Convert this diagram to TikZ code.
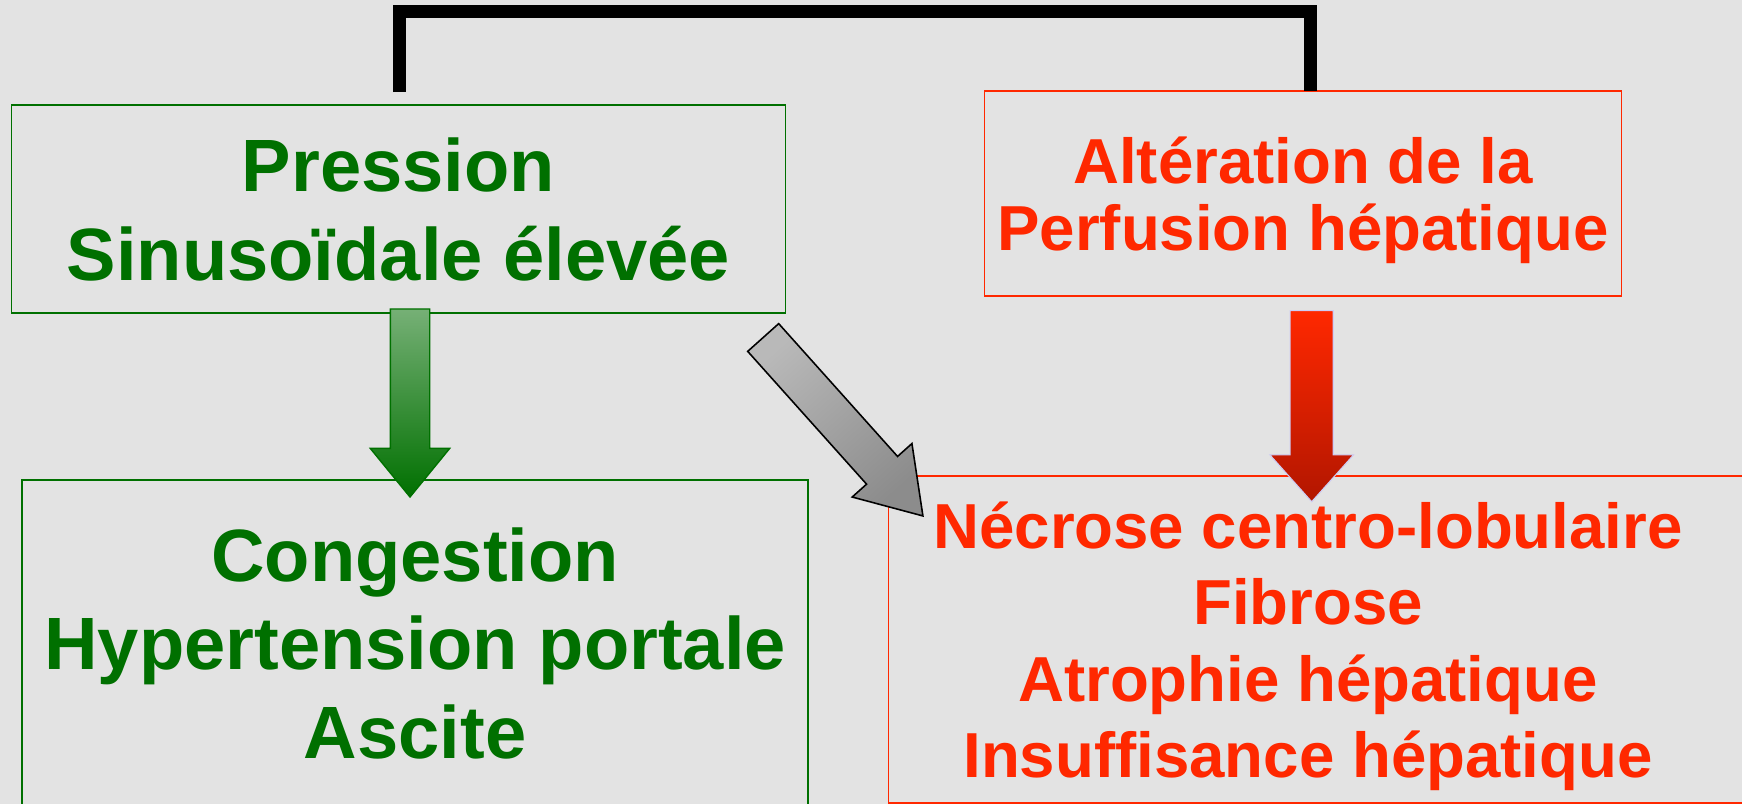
\documentclass[tikz,border=0pt]{standalone}
\usepackage{fontspec}
\setmainfont{Liberation Sans}
\usetikzlibrary{shapes.arrows}

\definecolor{fond}{RGB}{227,227,227}
\definecolor{vert}{RGB}{0,112,0}
\definecolor{vertclair}{RGB}{118,176,118}
\definecolor{rouge}{RGB}{255,40,0}
\definecolor{rougefonce}{RGB}{178,22,0}
\definecolor{lavande}{RGB}{205,205,245}

\newcommand{\pxu}{0.02cm}

\begin{document}
\begin{tikzpicture}[x=0.02cm,y=-0.02cm,
    boite/.style={line width=1.1pt, align=center, inner sep=0pt, outer sep=0pt, text depth=0pt},
    grand/.style={font=\fontsize{42.2}{51}\selectfont\bfseries},
    fleche/.style={single arrow, single arrow head indent=0pt, inner sep=0pt, outer sep=0pt, anchor=tail}
]
    % fond et cadre
    \fill[fond] (0,0) rectangle (1742,804);
    \useasboundingbox (0,0) rectangle (1742,804);
    \clip (0,0) rectangle (1742,804);

    % cadres
    \node[boite, grand, draw=vert, text=vert, minimum width=774*\pxu, minimum height=208*\pxu]
        (pression) at (398.5,209.2) {Pression\\Sinusoïdale élevée};
    \node[boite, draw=rouge, text=rouge, minimum width=637*\pxu, minimum height=205*\pxu,
        font=\fontsize{36.2}{38.3}\selectfont\bfseries]
        (alteration) at (1303,193.5) {Altération de la\\Perfusion hépatique};
    \node[boite, draw=vert, text=vert, minimum width=786*\pxu, minimum height=326*\pxu,
        font=\fontsize{42.2}{50.5}\selectfont\bfseries]
        (congestion) at (415.2,643) {Congestion\\Hypertension portale\\Ascite};
    \node[boite, text=rouge, minimum width=839*\pxu, minimum height=327*\pxu,
        font=\fontsize{36.2}{43.5}\selectfont\bfseries]
        (necrose) at (1308,639.5) {Nécrose centro-lobulaire\\Fibrose\\Atrophie hépatique\\Insuffisance hépatique};
    % le cadre de droite sort de l'image
    \draw[rouge, line width=1.1pt] ([xshift=1000*\pxu]necrose.north west) -- (necrose.north west)
        -- (necrose.south west) -- ++(1000,0);

    % crochet noir
    \draw[line width=7.4pt] ([xshift=1*\pxu, yshift=13*\pxu]pression.north) -- ++(0,-81)
        -| ([xshift=7*\pxu]alteration.north);

    % fleches
    \node[fleche, draw=vert, line width=0.8pt, top color=vertclair, bottom color=vert,
        rotate=-90, minimum height=188*\pxu, minimum width=78*\pxu,
        text height=38*\pxu, single arrow head extend=20*\pxu, single arrow tip angle=78.5]
        (fv) at (410,309) {};
    \node[fleche, draw=lavande, line width=0.6pt, top color=rouge, bottom color=rougefonce,
        rotate=-90, minimum height=191*\pxu, minimum width=82*\pxu,
        text height=42*\pxu, single arrow head extend=20.3*\pxu, single arrow tip angle=83.5]
        (fr) at (1311.7,310.7) {};
    \node[fleche, draw=black, line width=0.9pt, top color=gray!55, bottom color=gray!110!black,
        shading angle=41.8,
        rotate=-48.17, minimum height=239.5*\pxu, minimum width=78*\pxu,
        text height=40*\pxu, single arrow head extend=19.3*\pxu, single arrow tip angle=66.4]
        (fg) at (763.2,337.5) {};
\end{tikzpicture}
\end{document}
